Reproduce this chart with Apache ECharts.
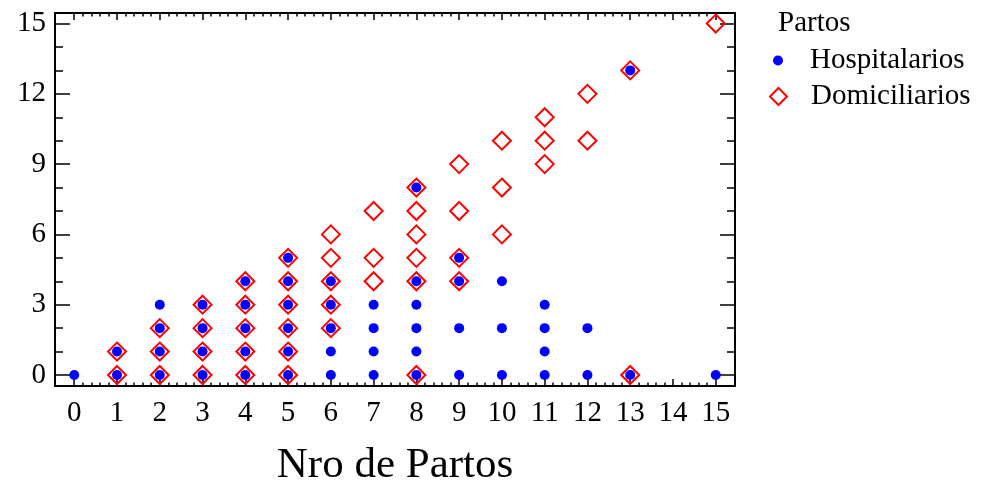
<!DOCTYPE html>
<html>
<head>
<meta charset="utf-8">
<script src="https://cdn.jsdelivr.net/npm/echarts@6/dist/echarts.min.js"></script>
<style>
  html, body { margin: 0; padding: 0; background: #fff; }
  #chart { width: 984px; height: 484px; }
</style>
</head>
<body>
<div id="chart"></div>
<script>
// Number of births (x) against count of each delivery type (y)
const nroPartos = [0, 1, 2, 3, 4, 5, 6, 7, 8, 9, 10, 11, 12, 13, 14, 15];

// Hospital deliveries observed for each value of nroPartos (same index)
const hospitalarios = [
  [0],
  [0, 1],
  [0, 1, 2, 3],
  [0, 1, 2, 3],
  [0, 1, 2, 3, 4],
  [0, 1, 2, 3, 4, 5],
  [0, 1, 2, 3, 4],
  [0, 1, 2, 3],
  [0, 1, 2, 3, 4, 8],
  [0, 2, 4, 5],
  [0, 2, 4],
  [0, 1, 2, 3],
  [0, 2],
  [0, 13],
  [],
  [0]
];

// Home deliveries observed for each value of nroPartos (same index)
const domiciliarios = [
  [],
  [0, 1],
  [0, 1, 2],
  [0, 1, 2, 3],
  [0, 1, 2, 3, 4],
  [0, 1, 2, 3, 4, 5],
  [2, 3, 4, 5, 6],
  [4, 5, 7],
  [0, 4, 5, 6, 7, 8],
  [4, 5, 7, 9],
  [6, 8, 10],
  [9, 10, 11],
  [10, 12],
  [0, 13],
  [],
  [15]
];

const xTickLabels = [0, 1, 2, 3, 4, 5, 6, 7, 8, 9, 10, 11, 12, 13, 14, 15];
const yTickLabels = [0, 3, 6, 9, 12, 15];
const legendTitle = 'Partos';
const seriesNames = ['Hospitalarios', 'Domiciliarios'];
const xTitle = 'Nro de Partos';

function toPairs(byX) {
  const out = [];
  byX.forEach(function (ys, i) {
    ys.forEach(function (y) { out.push([nroPartos[i], y]); });
  });
  return out;
}

// minor tick positions: fifths on x, units on y
const xMinor = [];
for (let i = 0; i <= 75; i++) {
  if (i % 5 !== 0) xMinor.push(Math.round(i * 2) / 10);
}
const yMinor = [];
for (let v = 0; v <= 15; v++) {
  if (v % 3 !== 0) yMinor.push(v);
}

const FONT = '"Liberation Serif", "Times New Roman", serif';
const X_RANGE = { min: -0.45, max: 15.45 };
const Y_RANGE = { min: -0.47, max: 15.45 };
const gridBox = { left: 55, right: 249, top: 13, bottom: 98, outerBoundsMode: 'none', containLabel: false };

function axis(dim, gridIndex, position, ticks, tickLen, withLabels) {
  const range = dim === 'x' ? X_RANGE : Y_RANGE;
  const a = {
    type: 'value',
    gridIndex: gridIndex,
    position: position,
    min: range.min,
    max: range.max,
    axisLine: { show: true, onZero: false, lineStyle: { color: '#000', width: 2 } },
    axisTick: {
      show: true, inside: true, length: tickLen, customValues: ticks,
      lineStyle: { color: '#000', width: 1.5 }
    },
    axisLabel: { show: false },
    splitLine: { show: false }
  };
  if (withLabels) {
    a.axisLabel = {
      show: true,
      customValues: ticks,
      color: '#000',
      fontFamily: FONT,
      fontSize: 29,
      margin: dim === 'x' ? 13 : 9
    };
  }
  return a;
}

const grids = [0, 1, 2, 3].map(function () { return Object.assign({}, gridBox); });

const xAxes = [
  axis('x', 0, 'bottom', xTickLabels, 7, true),
  axis('x', 1, 'bottom', xMinor, 3.5, false),
  axis('x', 2, 'top', xTickLabels, 7, false),
  axis('x', 3, 'top', xMinor, 3.5, false)
];
xAxes[0].name = xTitle;
xAxes[0].nameLocation = 'middle';
xAxes[0].nameGap = 58;
xAxes[0].nameTextStyle = { color: '#000', fontFamily: FONT, fontSize: 43 };

const yAxes = [
  axis('y', 0, 'left', yTickLabels, 15, true),
  axis('y', 1, 'left', yMinor, 8, false),
  axis('y', 2, 'right', yTickLabels, 15, false),
  axis('y', 3, 'right', yMinor, 8, false)
];

const legendText = { color: '#000', fontFamily: FONT, fontSize: 29 };

const chart = echarts.init(document.getElementById('chart'), null, { renderer: 'canvas' });
chart.setOption({
  animation: false,
  backgroundColor: '#fff',
  grid: grids,
  xAxis: xAxes,
  yAxis: yAxes,
  graphic: [{
    type: 'text',
    left: 778,
    top: 9,
    style: { text: legendTitle, fill: '#000', font: '29px ' + FONT }
  }],
  legend: [
    {
      data: [seriesNames[0]],
      orient: 'vertical',
      left: 768,
      top: 41,
      itemWidth: 10,
      itemHeight: 10,
      itemGap: 0,
      textStyle: Object.assign({ padding: [0, 0, 0, 22] }, legendText)
    },
    {
      data: [seriesNames[1]],
      orient: 'vertical',
      left: 764,
      top: 77,
      itemWidth: 17,
      itemHeight: 17,
      itemGap: 0,
      textStyle: Object.assign({ padding: [0, 0, 0, 19] }, legendText)
    }
  ],
  series: [
    {
      name: seriesNames[1],
      type: 'scatter',
      xAxisIndex: 0,
      yAxisIndex: 0,
      symbol: 'diamond',
      symbolSize: 18,
      itemStyle: { color: 'rgba(255,255,255,0)', borderColor: '#ff0000', borderWidth: 2, opacity: 1 },
      data: toPairs(domiciliarios),
      z: 2
    },
    {
      name: seriesNames[0],
      type: 'scatter',
      xAxisIndex: 0,
      yAxisIndex: 0,
      symbol: 'circle',
      symbolSize: 10,
      itemStyle: { color: '#0000ff', opacity: 1 },
      data: toPairs(hospitalarios),
      z: 3
    }
  ]
});
</script>
</body>
</html>
